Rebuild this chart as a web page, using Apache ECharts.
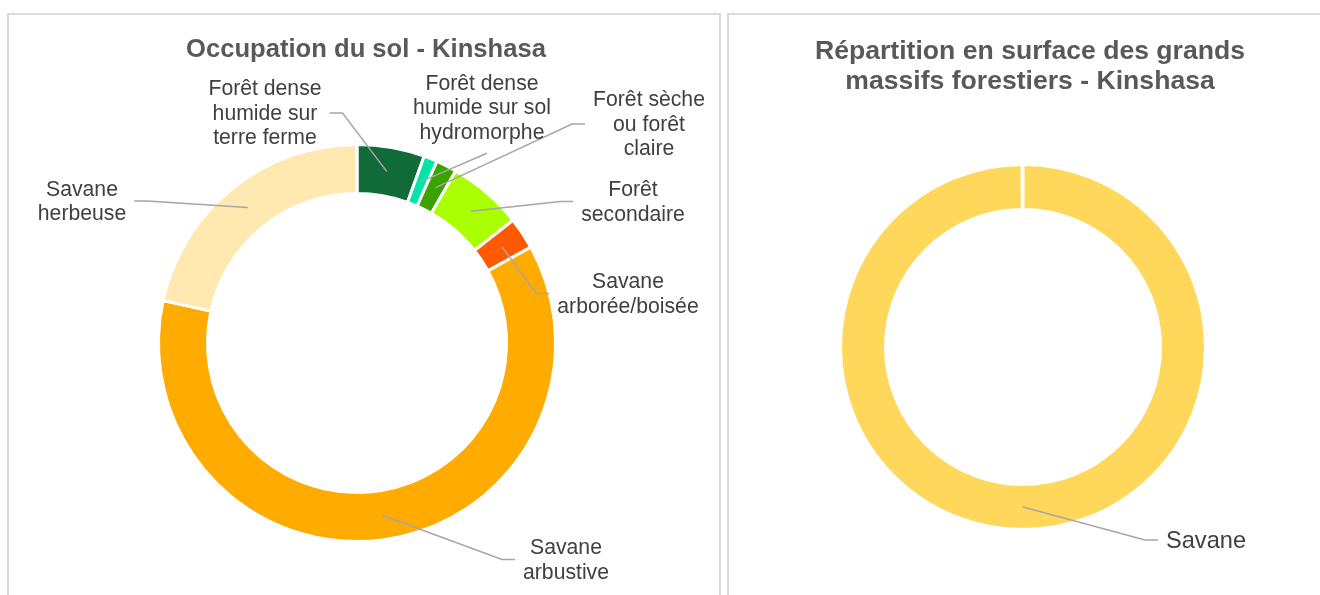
<!DOCTYPE html>
<html>
<head>
<meta charset="utf-8">
<script src="https://cdn.jsdelivr.net/npm/echarts@6/dist/echarts.min.js"></script>
<style>
  html, body { margin: 0; padding: 0; background: #fff; }
  #chart { width: 1320px; height: 595px; }
</style>
</head>
<body>
<div id="chart"></div>
<script>
// Occupation du sol (share of area, %)
const landCategories = [
  'Forêt dense\nhumide sur\nterre ferme',
  'Forêt dense\nhumide sur sol\nhydromorphe',
  'Forêt sèche\nou forêt\nclaire',
  'Forêt\nsecondaire',
  'Savane\narborée/boisée',
  'Savane\narbustive',
  'Savane\nherbeuse'
];
const landValues = [5.5, 1.1, 1.7, 6.1, 2.6, 61.5, 21.6];
const landColors = ['#116B38', '#00E6A6', '#3BA300', '#AAFF00', '#FF5A00', '#FFAB00', '#FFE9B0'];

// Grands massifs forestiers
const massifCategories = ['Savane'];
const massifValues = [100];
const massifColors = ['#FFD75B'];

// where each label sits, relative to its donut centre, and which side the leader joins
const landLabelSpots = [
  [-92, -229, 'right'],
  [125, -234.5, 'bottom'],
  [292, -218, 'left'],
  [276, -140.5, 'left'],
  [271, -48.5, 'left'],
  [209, 217.5, 'left'],
  [-275, -141, 'right']
];
const massifLabelSpots = [[183, 194, 'left']];

const fontFamily = '"Liberation Sans", Arial, sans-serif';

function placeLabels(center, ringMid, spots, values) {
  const total = values.reduce((a, b) => a + b, 0);
  return function (params) {
    const i = params.dataIndex;
    const spot = spots[i];
    const x = center[0] + spot[0];
    const y = center[1] + spot[1];
    const w = params.labelRect.width;
    const h = params.labelRect.height;
    // leader starts in the middle of the ring, at the slice's mid angle
    let before = 0;
    for (let k = 0; k < i; k++) before += values[k];
    const a = (before + values[i] / 2) / total * Math.PI * 2;
    const start = [center[0] + ringMid * Math.sin(a), center[1] - ringMid * Math.cos(a)];
    let pts;
    if (spot[2] === 'bottom') {
      pts = [start, [x + 5, y + h / 2 + 8]];
    } else {
      const s = spot[2] === 'right' ? 1 : -1;
      const edge = x + s * (w / 2 + 8);
      pts = [start, [edge + s * 13, y - 1], [edge, y - 1]];
    }
    return { x: x, y: y, align: 'center', verticalAlign: 'middle', labelLinePoints: pts };
  };
}

// ring drawn by one series, labels + leaders by a transparent copy on top
function donut(center, radius, ringMid, names, values, colors, spots, fontSize, extra) {
  const data = names.map((name, i) => ({
    name: name,
    value: values[i],
    itemStyle: { color: colors[i] }
  }));
  const ring = Object.assign({
    type: 'pie',
    z: 2,
    center: center,
    radius: radius,
    startAngle: 90,
    clockwise: true,
    silent: true,
    itemStyle: { borderColor: '#fff', borderWidth: 3 },
    label: { show: false },
    labelLine: { show: false },
    data: data
  }, extra);
  const labels = Object.assign({
    type: 'pie',
    z: 3,
    center: center,
    radius: radius,
    startAngle: 90,
    clockwise: true,
    silent: true,
    avoidLabelOverlap: false,
    itemStyle: { color: 'rgba(0,0,0,0)', borderWidth: 0 },
    label: {
      show: true,
      formatter: '{b}',
      color: '#404040',
      fontSize: fontSize,
      lineHeight: 24.5,
      fontFamily: fontFamily,
      align: 'center'
    },
    labelLine: { show: true, smooth: false, lineStyle: { color: '#A6A6A6', width: 1.5 } },
    labelLayout: placeLabels(center, ringMid, spots, values),
    data: names.map((name, i) => ({ name: name, value: values[i] }))
  }, extra);
  return [ring, labels];
}

const chart = echarts.init(document.getElementById('chart'), null, { renderer: 'canvas' });

chart.setOption({
  animation: false,
  graphic: [
    { type: 'rect', silent: true, shape: { x: 8, y: 14, width: 712, height: 620 },
      style: { fill: 'none', stroke: '#D9D9D9', lineWidth: 2 } },
    { type: 'rect', silent: true, shape: { x: 728, y: 14, width: 620, height: 620 },
      style: { fill: 'none', stroke: '#D9D9D9', lineWidth: 2 } },
    { type: 'text', silent: true, x: 366, y: 50,
      style: { text: 'Occupation du sol - Kinshasa', align: 'center', verticalAlign: 'middle',
        fontSize: 25.6, fontWeight: 'bold', fontFamily: fontFamily, fill: '#595959' } },
    { type: 'text', silent: true, x: 1030, y: 67,
      style: { text: 'Répartition en surface des grands\nmassifs forestiers - Kinshasa', align: 'center',
        verticalAlign: 'middle', lineHeight: 30, fontSize: 26.6, fontWeight: 'bold',
        fontFamily: fontFamily, fill: '#595959' } }
  ],
  series: [].concat(
    donut([357, 343], [149.5, 198.5], 174, landCategories, landValues, landColors,
      landLabelSpots, 21.2, {}),
    donut([1023, 347], [137.5, 182.5], 160, massifCategories, massifValues, massifColors,
      massifLabelSpots, 23.6, { endAngle: -269.7 })
  )
});
</script>
</body>
</html>
